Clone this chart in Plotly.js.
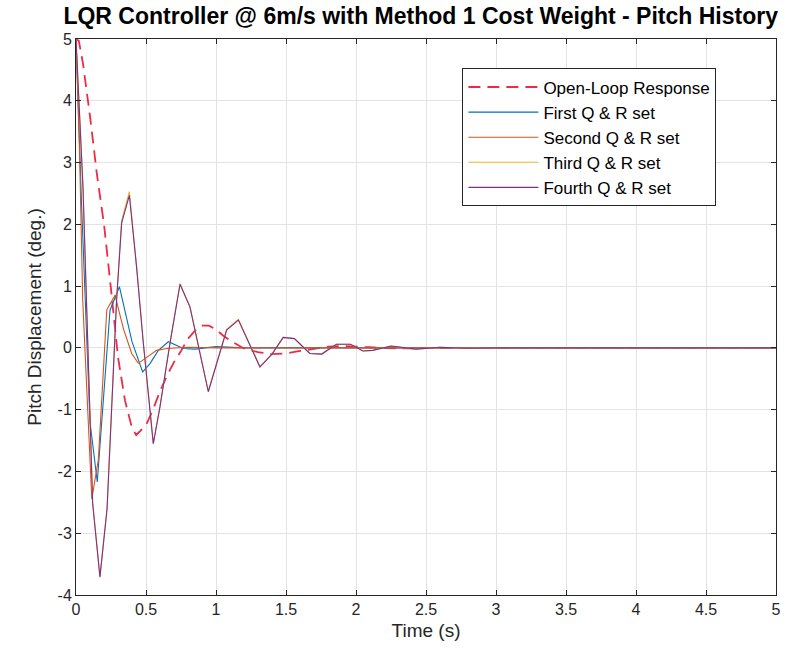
<!DOCTYPE html>
<html>
<head>
<meta charset="utf-8">
<script src="https://cdn.plot.ly/plotly-3.0.1.min.js"></script>
<style>html,body{margin:0;padding:0;background:#fff;}#chart{width:809px;height:664px;}</style>
</head>
<body>
<div id="chart"></div>
<script>
// Series names
const seriesNames = ["Open-Loop Response", "First Q & R set", "Second Q & R set", "Third Q & R set", "Fourth Q & R set"];

// Open-loop response
const tOpen = [0, 0.02, 0.05, 0.1, 0.15, 0.2, 0.25, 0.3, 0.35, 0.4, 0.43, 0.5, 0.55, 0.6, 0.65, 0.7, 0.75, 0.8, 0.85, 0.9, 0.95, 1.0, 1.05, 1.1, 1.2, 1.3, 1.4, 1.5, 1.6, 1.7, 1.8, 1.9, 2.0, 2.1, 2.2, 2.3, 2.4, 2.6, 2.8, 3.0, 5.0];
const yOpen = [5, 4.97, 4.6, 3.75, 2.8, 2.0, 0.95, -0.15, -0.85, -1.3, -1.41, -1.25, -1.0, -0.7, -0.45, -0.23, -0.05, 0.15, 0.28, 0.36, 0.36, 0.3, 0.2, 0.12, -0.01, -0.07, -0.1, -0.09, -0.05, -0.01, 0.02, 0.03, 0.025, 0.01, -0.005, -0.01, -0.008, 0, 0.003, 0, 0];

// First Q & R set
const tFirst = [0, 0.04, 0.1, 0.152, 0.243, 0.31, 0.4, 0.476, 0.53, 0.588, 0.66, 0.767, 0.85, 1.0, 1.2, 1.5, 2.0, 5.0];
const yFirst = [5, 2.3, -1.2, -2.17, 0.61, 0.99, 0.1, -0.39, -0.25, -0.04, 0.1, -0.01, -0.02, 0.02, 0, 0, 0, 0];

// Second Q & R set
const tSecond = [0, 0.025, 0.048, 0.113, 0.16, 0.22, 0.279, 0.34, 0.398, 0.445, 0.576, 0.65, 0.8, 1.0, 5.0];
const ySecond = [5, 3.2, 0.77, -2.45, -1.8, 0.62, 0.85, 0.3, -0.09, -0.25, -0.04, -0.01, 0.01, 0, 0];

// Third Q & R set
const tThird = [0, 0.05, 0.119, 0.171, 0.222, 0.29, 0.326, 0.381, 0.433, 0.48, 0.552, 0.6, 0.671, 0.743, 0.814, 0.945, 1.076, 1.16, 1.314, 1.40, 1.48, 1.56, 1.67, 1.755, 1.86, 1.96, 2.05, 2.12, 2.25, 2.43, 2.6, 2.8, 3.0, 5.0];
const yThird = [5, 2.6, -2.5, -3.7, -2.6, 0.8, 2.06, 2.53, 1.32, 0.1, -1.55, -0.95, 0.08, 1.04, 0.67, -0.7, 0.3, 0.46, -0.3, -0.1, 0.17, 0.15, -0.09, -0.1, 0.06, 0.06, -0.05, -0.04, 0.03, -0.02, 0.01, -0.005, 0, 0];

// Fourth Q & R set
const tFourth = [0, 0.05, 0.119, 0.171, 0.222, 0.29, 0.326, 0.381, 0.433, 0.48, 0.552, 0.6, 0.671, 0.743, 0.814, 0.945, 1.076, 1.16, 1.314, 1.40, 1.48, 1.56, 1.67, 1.755, 1.86, 1.96, 2.05, 2.12, 2.25, 2.43, 2.6, 2.8, 3.0, 5.0];
const yFourth = [5, 2.6, -2.52, -3.71, -2.6, 0.77, 2.02, 2.47, 1.3, 0.1, -1.55, -0.95, 0.07, 1.03, 0.66, -0.71, 0.29, 0.45, -0.31, -0.1, 0.17, 0.15, -0.09, -0.1, 0.06, 0.06, -0.05, -0.04, 0.03, -0.02, 0.01, -0.005, 0, 0];

// Tick labels
const xTickVals = [0, 0.5, 1, 1.5, 2, 2.5, 3, 3.5, 4, 4.5, 5];
const xTickText = ["0", "0.5", "1", "1.5", "2", "2.5", "3", "3.5", "4", "4.5", "5"];
const yTickVals = [-4, -3, -2, -1, 0, 1, 2, 3, 4, 5];
const yTickText = ["-4", "-3", "-2", "-1", "0", "1", "2", "3", "4", "5"];

const FONT = "Liberation Sans, Arial, Helvetica, sans-serif";
const axisColor = "#262626";

const traces = [
  {x: tOpen, y: yOpen, name: seriesNames[0], mode: "lines", line: {color: "#EE2A48", width: 1.8, dash: "12px,7px"}},
  {x: tFirst, y: yFirst, name: seriesNames[1], mode: "lines", line: {color: "#0072BD", width: 1.1}},
  {x: tSecond, y: ySecond, name: seriesNames[2], mode: "lines", line: {color: "#D95319", width: 1.1}},
  {x: tThird, y: yThird, name: seriesNames[3], mode: "lines", line: {color: "#EDB120", width: 1.1}},
  {x: tFourth, y: yFourth, name: seriesNames[4], mode: "lines", line: {color: "#7E2F8E", width: 1.1}}
];

const axisCommon = {
  showline: true, mirror: "ticks", linecolor: axisColor, linewidth: 1,
  ticks: "inside", ticklen: 5, tickcolor: axisColor,
  showgrid: true, gridcolor: "#E3E3E3", gridwidth: 1,
  zeroline: false,
  tickfont: {family: FONT, size: 16, color: axisColor}
};

const layout = {
  width: 809, height: 664,
  paper_bgcolor: "#fff", plot_bgcolor: "#fff",
  margin: {l: 76, r: 33, t: 39, b: 69},
  title: {text: "<b>LQR Controller @ 6m/s with Method 1 Cost Weight - Pitch History</b>",
          font: {family: FONT, size: 23, color: "#000"}, x: 0.52, xanchor: "center", yref: "container", y: 0.988, yanchor: "top"},
  xaxis: Object.assign({}, axisCommon, {range: [0, 5], tickvals: xTickVals, ticktext: xTickText,
          title: {text: "Time (s)", font: {family: FONT, size: 19, color: axisColor}, standoff: 6}}),
  yaxis: Object.assign({}, axisCommon, {range: [-4, 5], tickvals: yTickVals, ticktext: yTickText,
          title: {text: "Pitch Displacement (deg.)", font: {family: FONT, size: 19, color: axisColor}, standoff: 10}}),
  showlegend: true,
  legend: {x: 0.552, y: 0.947, xanchor: "left", yanchor: "top",
           bgcolor: "#fff", bordercolor: axisColor, borderwidth: 1,
           font: {family: FONT, size: 17, color: "#000"}, itemwidth: 70, tracegroupgap: 0}
};

Plotly.newPlot("chart", traces, layout, {displayModeBar: false, staticPlot: true});
</script>
</body>
</html>
